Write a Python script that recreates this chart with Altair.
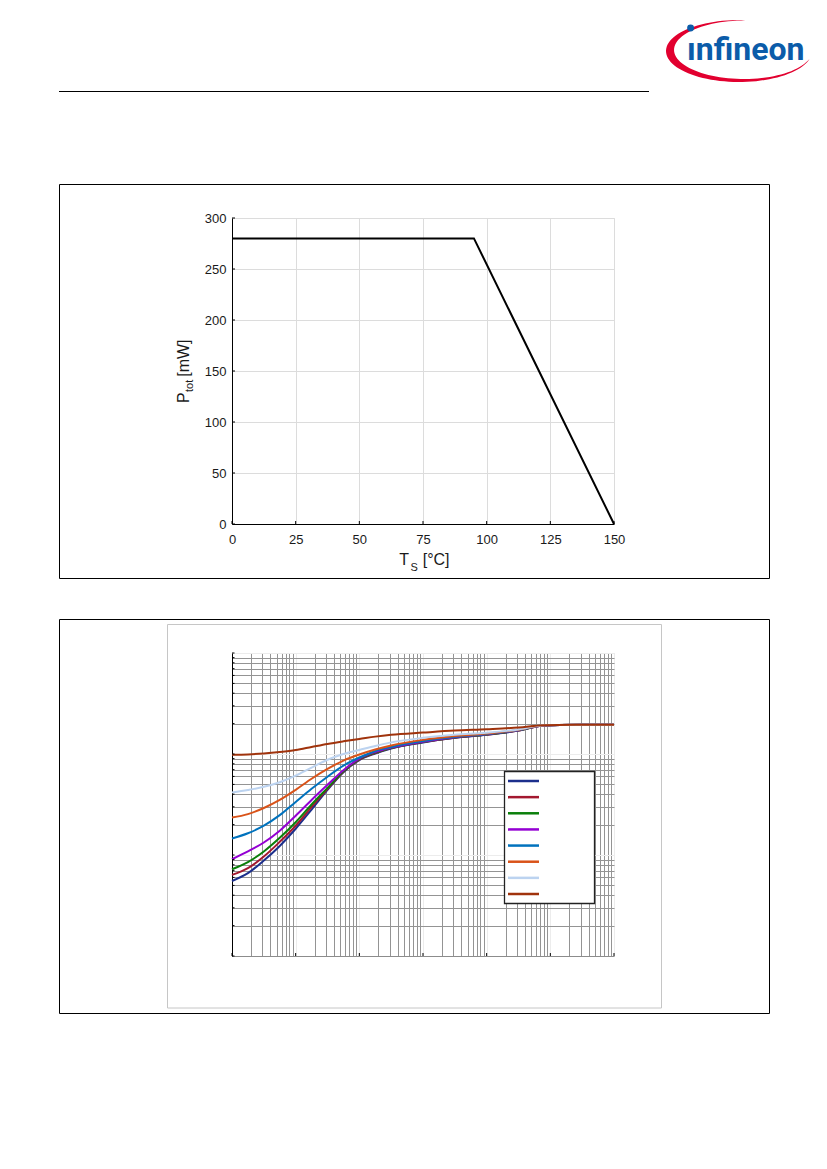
import math
import altair as alt
import pandas as pd

# ---------------- Chart 1 data: Ptot vs Ts ----------------
TS = [0, 95, 150]
PTOT = [280, 280, 0]
X1_TICKS = [0, 25, 50, 75, 100, 125, 150]
Y1_TICKS = [0, 50, 100, 150, 200, 250, 300]

# ---------------- Chart 2 data: Zth vs tp ----------------
TP = [1e-6, 1.778e-6, 3.162e-6, 5.623e-6, 1e-5, 1.778e-5, 3.162e-5, 5.623e-5,
      1e-4, 1.778e-4, 3.162e-4, 1e-3, 3.162e-3, 1e-2, 3.162e-2, 7.943e-2, 3.162e-1, 1.0]
SERIES = ["D = 0", "D = 0.005", "D = 0.01", "D = 0.02", "D = 0.05", "D = 0.1", "D = 0.2", "D = 0.5"]
COLORS = ["#1c2f8c", "#a3182f", "#0a7f0a", "#9400d3", "#0072bd", "#d95319", "#bcd3f0", "#a0330c"]
ZTH_D0 = [5.53, 6.61, 8.81, 12.3, 18.2, 28.2, 44.2, 66.1, 87.1, 101.2, 113.5, 130.3, 144.5, 154.9, 170.6, 191.9, 194.5, 195.0]
ZTH_D0005 = [6.35, 7.41, 9.66, 13.5, 19.5, 29.9, 45.2, 66.8, 88.1, 102.3, 114.3, 131.2, 145.2, 155.6, 171.0, 191.9, 194.5, 195.0]
ZTH_D001 = [7.23, 8.51, 10.84, 14.8, 21.1, 31.6, 46.2, 67.6, 89.1, 103.5, 114.8, 131.8, 145.9, 156.3, 171.4, 191.9, 194.5, 195.0]
ZTH_D002 = [9.08, 10.84, 13.3, 17.4, 24.5, 35.1, 49.5, 69.2, 90.2, 104.7, 115.6, 132.4, 146.6, 157.0, 171.8, 191.9, 194.5, 195.0]
ZTH_D005 = [14.55, 16.4, 19.5, 24.8, 33.5, 45.2, 59.6, 76.7, 92.3, 107.2, 117.5, 134.3, 147.9, 158.1, 172.6, 192.3, 194.5, 195.0]
ZTH_D01 = [23.5, 25.4, 29.2, 35.1, 44.2, 56.9, 71.1, 86.1, 98.9, 110.9, 121.6, 138.0, 150.7, 160.0, 173.8, 192.8, 194.5, 195.0]
ZTH_D02 = [41.5, 44.0, 47.3, 52.5, 61.0, 73.3, 87.7, 100.0, 109.6, 120.2, 130.3, 144.5, 154.9, 162.2, 175.0, 192.8, 194.5, 195.0]
ZTH_D05 = [98.2, 99.1, 101.2, 104.7, 109.6, 117.5, 125.9, 133.4, 140.6, 148.6, 154.9, 162.9, 170.6, 175.8, 182.8, 192.8, 194.5, 195.0]
ZTH_ALL = [ZTH_D0, ZTH_D0005, ZTH_D001, ZTH_D002, ZTH_D005, ZTH_D01, ZTH_D02, ZTH_D05]

X2_TICKS = [1e-6, 2e-6, 3e-6, 4e-6, 5e-6, 6e-6, 7e-6, 8e-6, 9e-6,
            1e-5, 2e-5, 3e-5, 4e-5, 5e-5, 6e-5, 7e-5, 8e-5, 9e-5,
            1e-4, 2e-4, 3e-4, 4e-4, 5e-4, 6e-4, 7e-4, 8e-4, 9e-4,
            1e-3, 2e-3, 3e-3, 4e-3, 5e-3, 6e-3, 7e-3, 8e-3, 9e-3,
            1e-2, 2e-2, 3e-2, 4e-2, 5e-2, 6e-2, 7e-2, 8e-2, 9e-2,
            1e-1, 2e-1, 3e-1, 4e-1, 5e-1, 6e-1, 7e-1, 8e-1, 9e-1, 1.0]
X2_DECADES = [1e-6, 1e-5, 1e-4, 1e-3, 1e-2, 1e-1, 1.0]
Y2_TICKS = [1, 2, 3, 4, 5, 6, 7, 8, 9,
            10, 20, 30, 40, 50, 60, 70, 80, 90,
            100, 200, 300, 400, 500, 600, 700, 800, 900, 1000]

# text pieces
LOGO_TEXT = ["ınfineon"]
XT_MAIN = ["T"]
XT_SUB = ["S"]
XT_UNIT = ["[°C]"]
YT_MAIN = ["P"]
YT_SUB = ["tot"]
YT_UNIT = ["[mW]"]

FONT = "Liberation Sans"
W1, H1 = 382, 306
W2, H2 = 382, 303


def one(text=""):
    return pd.DataFrame({"t": [text]})


def swoosh_path():
    outer, inner = [], []
    n = 72
    for k in range(n + 1):
        u = k / n
        th = math.radians(-85 - u * (345 - 85))
        ox, oy = 73 * math.cos(th), 31 * math.sin(th)
        ix, iy = 3 + 67.5 * math.cos(th), -0.5 + 28 * math.sin(th)
        f = math.sin(math.pi * u) ** 0.6
        outer.append((ox, oy))
        inner.append((ox + f * (ix - ox), oy + f * (iy - oy)))
    pts = outer + inner[::-1]
    s = 75.0
    d = "M" + " L".join(f"{x / s:.4f},{y / s:.4f}" for x, y in pts) + " Z"
    return d


# ---------------- Chart 1 ----------------
df1 = pd.DataFrame({"ts": TS, "ptot": PTOT})
xs1 = alt.Scale(domain=[0, 150], nice=False, zero=False)
ys1 = alt.Scale(domain=[0, 300], nice=False)
ax1x = alt.Axis(values=X1_TICKS, title=None, grid=True, gridColor="#dcdcdc", gridWidth=1,
                domainColor="black", domainWidth=1, ticks=False, labelPadding=9,
                labelFontSize=13, labelColor="#1a1a1a", labelFont=FONT, labelFlush=False)
ax1y = alt.Axis(values=Y1_TICKS, title=None, grid=True, gridColor="#dcdcdc", gridWidth=1,
                domainColor="black", domainWidth=1, ticks=False, labelPadding=6,
                labelFontSize=13, labelColor="#1a1a1a", labelFont=FONT)

line1 = alt.Chart(df1).mark_line(color="black", strokeWidth=2).encode(
    x=alt.X("ts:Q", scale=xs1, axis=ax1x),
    y=alt.Y("ptot:Q", scale=ys1, axis=ax1y),
)
ticks1y = alt.Chart(pd.DataFrame({"ptot": Y1_TICKS})).mark_rule(color="black", strokeWidth=1).encode(
    y=alt.Y("ptot:Q", scale=ys1, axis=ax1y), x=alt.value(0), x2=alt.value(3))
ticks1x = alt.Chart(pd.DataFrame({"ts": X1_TICKS})).mark_rule(color="black", strokeWidth=1).encode(
    x=alt.X("ts:Q", scale=xs1, axis=ax1x), y=alt.value(H1), y2=alt.value(H1 - 3))

frame1 = alt.Chart(one()).mark_rect(fillOpacity=0, stroke="black", strokeWidth=1).encode(
    x=alt.value(-172.5), x2=alt.value(537.5), y=alt.value(-33.5), y2=alt.value(360.5))
anchor = alt.Chart(one()).mark_rect(opacity=0).encode(
    x=alt.value(-223), x2=alt.value(-222), y=alt.value(-209), y2=alt.value(-208))
header_rule = alt.Chart(one()).mark_rule(color="black", strokeWidth=1).encode(
    x=alt.value(-173), x2=alt.value(417), y=alt.value(-126.5))
swoosh = alt.Chart(one()).mark_point(shape=swoosh_path(), size=22500, filled=True,
                                     color="#e2002f", opacity=1, strokeWidth=0).encode(
    x=alt.value(507), y=alt.value(-167))
logo_text = alt.Chart(pd.DataFrame({"t": LOGO_TEXT})).mark_text(
    font="Roboto", fontWeight="bold", fontSize=32, color="#0b5ca9",
    align="left", baseline="alphabetic").encode(
    text="t:N", x=alt.value(455), y=alt.value(-158.3))
logo_dot = alt.Chart(one()).mark_point(shape="circle", size=48, filled=True, color="#0b5ca9",
                                       opacity=1).encode(x=alt.value(458.6), y=alt.value(-190))

xt1 = alt.Chart(pd.DataFrame({"t": XT_MAIN})).mark_text(font=FONT, fontSize=16, color="#1a1a1a",
                                                        align="left", baseline="alphabetic").encode(
    text="t:N", x=alt.value(167.3), y=alt.value(347))
xt2 = alt.Chart(pd.DataFrame({"t": XT_SUB})).mark_text(font=FONT, fontSize=11, color="#1a1a1a",
                                                       align="left", baseline="alphabetic").encode(
    text="t:N", x=alt.value(178.5), y=alt.value(353))
xt3 = alt.Chart(pd.DataFrame({"t": XT_UNIT})).mark_text(font=FONT, fontSize=16, color="#1a1a1a",
                                                        align="left", baseline="alphabetic").encode(
    text="t:N", x=alt.value(190.7), y=alt.value(347))
yt1 = alt.Chart(pd.DataFrame({"t": YT_MAIN})).mark_text(font=FONT, fontSize=16, color="#1a1a1a", angle=270,
                                                        align="left", baseline="alphabetic").encode(
    text="t:N", x=alt.value(-43.5), y=alt.value(185))
yt2 = alt.Chart(pd.DataFrame({"t": YT_SUB})).mark_text(font=FONT, fontSize=11, color="#1a1a1a", angle=270,
                                                       align="left", baseline="alphabetic").encode(
    text="t:N", x=alt.value(-39.5), y=alt.value(174))
yt3 = alt.Chart(pd.DataFrame({"t": YT_UNIT})).mark_text(font=FONT, fontSize=16, color="#1a1a1a", angle=270,
                                                        align="left", baseline="alphabetic").encode(
    text="t:N", x=alt.value(-43.5), y=alt.value(158.8))

chart1 = alt.layer(anchor, frame1, header_rule, swoosh, logo_text, logo_dot,
                   line1, ticks1y, ticks1x, xt1, xt2, xt3, yt1, yt2, yt3).properties(width=W1, height=H1)

# ---------------- Chart 2 ----------------
rows = []
for name, vals in zip(SERIES, ZTH_ALL):
    for t, z in zip(TP, vals):
        rows.append({"tp": t, "zth": z, "series": name})
df2 = pd.DataFrame(rows)

decade_test = "abs(log(datum.value)/LN10 - round(log(datum.value)/LN10)) < 0.001"
grid_color = {"condition": {"test": decade_test, "value": "#ececec"}, "value": "#949494"}
xs2 = alt.Scale(type="log", domain=[1e-6, 1], nice=False)
ys2 = alt.Scale(type="log", domain=[1, 1000], nice=False)
color_scale = alt.Scale(domain=SERIES, range=COLORS)
ax2x = alt.Axis(values=X2_TICKS, labels=False, ticks=False, title=None, grid=True,
                gridColor=grid_color, gridWidth=1, domainColor="#8c8c8c", domainWidth=1)
ax2y = alt.Axis(values=Y2_TICKS, labels=False, ticks=False, title=None, grid=True,
                gridColor=grid_color, gridWidth=1, domainColor="black", domainWidth=1)

lines2 = alt.Chart(df2).mark_line(strokeWidth=2, interpolate="monotone").encode(
    x=alt.X("tp:Q", scale=xs2, axis=ax2x),
    y=alt.Y("zth:Q", scale=ys2, axis=ax2y),
    color=alt.Color("series:N", scale=color_scale, legend=None),
)
ticks2y = alt.Chart(pd.DataFrame({"zth": Y2_TICKS})).mark_rule(color="black", strokeWidth=1).encode(
    y=alt.Y("zth:Q", scale=ys2, axis=None), x=alt.value(0), x2=alt.value(2.5))
ticks2x = alt.Chart(pd.DataFrame({"tp": X2_DECADES})).mark_rule(color="black", strokeWidth=1).encode(
    x=alt.X("tp:Q", scale=xs2, axis=ax2x), y=alt.value(H2), y2=alt.value(H2 - 3))
frame2 = alt.Chart(one()).mark_rect(fillOpacity=0, stroke="black", strokeWidth=1).encode(
    x=alt.value(-172.5), x2=alt.value(537.5), y=alt.value(-33.5), y2=alt.value(360.5))
inner2 = alt.Chart(one()).mark_rect(fillOpacity=0, stroke="#c6c6c6", strokeWidth=1).encode(
    x=alt.value(-64.5), x2=alt.value(429.5), y=alt.value(-28.5), y2=alt.value(355))

# legend (box with line samples, one per series, no labels as in the reference)
leg_box = alt.Chart(one()).mark_rect(fill="white", stroke="#222222", strokeWidth=1.3).encode(
    x=alt.value(272.5), x2=alt.value(362.5), y=alt.value(118.5), y2=alt.value(250.5))
leg_lines = alt.Chart(pd.DataFrame({"series": SERIES})).mark_rule(strokeWidth=2.5).encode(
    y=alt.Y("series:N", scale=alt.Scale(type="point", domain=SERIES, range=[128, 241], padding=0),
            axis=None),
    x=alt.value(276), x2=alt.value(307),
    color=alt.Color("series:N", scale=color_scale, legend=None),
)

chart2 = alt.layer(frame2, inner2, lines2, ticks2y, ticks2x, leg_box, leg_lines).resolve_scale(
    y="independent").properties(width=W2, height=H2)

chart = alt.vconcat(chart1, chart2, spacing=129, bounds="flush").properties(
    padding=0
).configure_view(stroke=None).configure(font=FONT)

chart.save("out.html", embed_options={"renderer": "svg", "actions": False})
